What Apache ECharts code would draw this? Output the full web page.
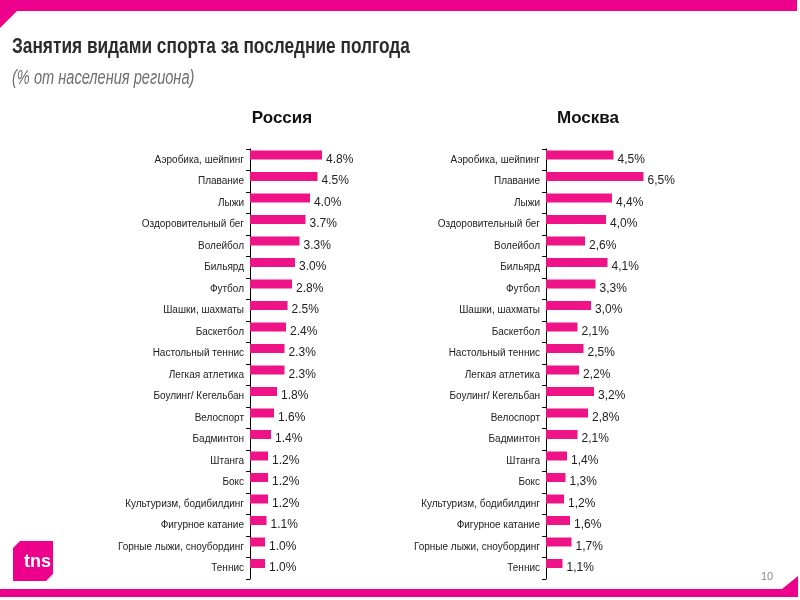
<!DOCTYPE html>
<html><head><meta charset="utf-8">
<script src="https://cdn.jsdelivr.net/npm/echarts@6/dist/echarts.min.js"></script>
<style>html,body{margin:0;padding:0;background:#fff;}#c{width:800px;height:600px;}</style>
</head><body><div id="c"></div>
<script>
const categories = ['Аэробика, шейпинг','Плавание','Лыжи','Оздоровительный бег','Волейбол','Бильярд','Футбол','Шашки, шахматы','Баскетбол','Настольный теннис','Легкая атлетика','Боулинг/ Кегельбан','Велоспорт','Бадминтон','Штанга','Бокс','Культуризм, бодибилдинг','Фигурное катание','Горные лыжи, сноубординг','Теннис'];
const russia = [4.8,4.5,4.0,3.7,3.3,3.0,2.8,2.5,2.4,2.3,2.3,1.8,1.6,1.4,1.2,1.2,1.2,1.1,1.0,1.0];
const moscow = [4.5,6.5,4.4,4.0,2.6,4.1,3.3,3.0,2.1,2.5,2.2,3.2,2.8,2.1,1.4,1.3,1.2,1.6,1.7,1.1];
const panelTitles = ['Россия','Москва'];
const mainTitle = 'Занятия видами спорта за последние полгода';
const subTitle = '(% от населения региона)';
const pageNo = '10';

const PINK = '#EC008C', BAR = '#EE1487';
const chart = echarts.init(document.getElementById('c'));
const lefts = [250, 546];
const seps = ['.', ','];
const grids = [], xAxes = [], yAxes = [], series = [];
lefts.forEach((L, p) => {
  grids.push({left: L, top: 149, width: 150, height: 430});
  grids.push({left: L, top: 144.25, width: 150, height: 430});
  const gA = p*2, gB = p*2+1;
  xAxes.push({gridIndex: gA, type:'value', min:0, max:10, show:false});
  xAxes.push({gridIndex: gB, type:'value', min:0, max:10, show:false});
  yAxes.push({gridIndex: gA, type:'category', data: categories, inverse:true,
    axisLine:{show:true, lineStyle:{color:'#000', width:1}},
    axisTick:{show:true, length:4, lineStyle:{color:'#000'}},
    axisLabel:{fontFamily:'Liberation Sans', fontSize:10, color:'#222', margin:6, interval:0},
    splitLine:{show:false}});
  yAxes.push({gridIndex: gB, type:'category', data: categories, inverse:true, show:false});
  const vals = p === 0 ? russia : moscow;
  const sep = seps[p];
  series.push({type:'bar', xAxisIndex: gB, yAxisIndex: gB, data: vals, barWidth: 9,
    itemStyle:{color: BAR}, silent:true,
    label:{show:true, position:'right', distance:4, offset:[0,4.5],
      fontFamily:'Liberation Sans', fontSize:12, color:'#222',
      formatter: d => d.value.toFixed(1).replace('.', sep) + '%'}});
});

const option = {
  animation:false,
  backgroundColor:'#fff',
  grid: grids, xAxis: xAxes, yAxis: yAxes, series: series,
  graphic:[
    {type:'polygon', shape:{points:[[0,0],[797,0],[797,11],[17,11],[0,28]]}, style:{fill:PINK}, silent:true},
    {type:'polygon', shape:{points:[[0,589],[782,589],[798,576],[798,597],[0,597]]}, style:{fill:PINK}, silent:true},
    {type:'polygon', shape:{points:[[20,541],[53,541],[53,574],[46,581],[13,581],[13,548]]}, style:{fill:PINK}, silent:true},
    {type:'text', x:24, y:562, style:{text:'tns', fill:'#fff', font:'bold 18px "Liberation Sans"', verticalAlign:'middle'}, silent:true},
    {type:'text', x:12, y:47, scaleX:0.785, style:{text:mainTitle, fill:'#2b2b2b', font:'bold 22px "Liberation Sans"', verticalAlign:'middle'}, silent:true},
    {type:'text', x:12, y:78, scaleX:0.73, style:{text:subTitle, fill:'#6e6e6e', font:'italic 20px "Liberation Sans"', verticalAlign:'middle'}, silent:true},
    {type:'text', x:282, y:118, style:{text:panelTitles[0], fill:'#111', font:'bold 17px "Liberation Sans"', align:'center', verticalAlign:'middle'}, silent:true},
    {type:'text', x:588, y:118, style:{text:panelTitles[1], fill:'#111', font:'bold 17px "Liberation Sans"', align:'center', verticalAlign:'middle'}, silent:true},
    {type:'text', x:767, y:577, style:{text:pageNo, fill:'#8a8a8a', font:'11px "Liberation Sans"', align:'center', verticalAlign:'middle'}, silent:true}
  ]
};
chart.setOption(option);
</script></body></html>
